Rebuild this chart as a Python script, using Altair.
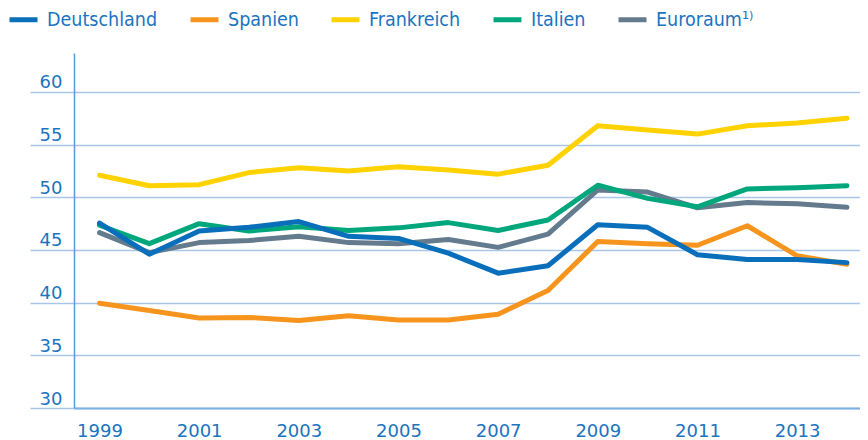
import altair as alt
import pandas as pd

years = list(range(1999, 2015))
series_names = ["Deutschland", "Spanien", "Frankreich", "Italien", "Euroraum¹⁾"]
series_colors = ["#0a6fbb", "#f7941d", "#ffd200", "#00a67c", "#647b8e"]
deutschland = [47.55, 44.6, 46.8, 47.15, 47.7, 46.3, 46.1, 44.7, 42.8, 43.5, 47.4, 47.15, 44.55, 44.1, 44.1, 43.8]
spanien = [39.95, 39.25, 38.55, 38.6, 38.3, 38.75, 38.35, 38.35, 38.9, 41.15, 45.8, 45.6, 45.45, 47.3, 44.45, 43.65]
frankreich = [52.1, 51.1, 51.2, 52.35, 52.8, 52.5, 52.9, 52.6, 52.2, 53.05, 56.8, 56.4, 56.0, 56.8, 57.05, 57.5]
italien = [47.35, 45.6, 47.5, 46.8, 47.2, 46.85, 47.1, 47.6, 46.85, 47.85, 51.15, 49.9, 49.1, 50.8, 50.9, 51.1]
euroraum = [46.65, 44.75, 45.7, 45.9, 46.3, 45.7, 45.6, 46.0, 45.25, 46.5, 50.7, 50.5, 49.0, 49.5, 49.4, 49.05]
y_ticks = [30, 35, 40, 45, 50, 55, 60]
x_ticks = [1999, 2001, 2003, 2005, 2007, 2009, 2011, 2013]

values = [deutschland, spanien, frankreich, italien, euroraum]
rows = []
for name, vals in zip(series_names, values):
    for yr, v in zip(years, vals):
        rows.append({"Jahr": yr, "Wert": v, "Reihe": name})
df = pd.DataFrame(rows)

BLUE = "#1a74bf"
LEGEND_FONT = "'DejaVu Sans Condensed', 'Open Sans', 'DejaVu Sans', sans-serif"
color_scale = alt.Scale(domain=series_names, range=series_colors)

base = alt.Chart(df).encode(
    x=alt.X("Jahr:Q",
            scale=alt.Scale(domain=[1998.488, 2014.262], nice=False, zero=False),
            axis=alt.Axis(values=x_ticks, format="d", title=None, ticks=False, grid=False,
                          domainColor="#7cb0e0", domainWidth=2,
                          labelColor=BLUE, labelFont="DejaVu Sans", labelFontSize=18,
                          labelPadding=14, labelFlush=False, labelOverlap=False)),
    y=alt.Y("Wert:Q",
            scale=alt.Scale(domain=[30, 63.7], nice=False, zero=False),
            axis=alt.Axis(values=y_ticks, title=None, grid=True, gridColor="#a9c6e9", gridWidth=1.5,
                          ticks=True, tickSize=44, tickColor="#a9c6e9", tickWidth=1.5,
                          domainColor="#5a9ad6", domainWidth=1.5,
                          labelColor=BLUE, labelFont="DejaVu Sans", labelFontSize=18,
                          labelPadding=-32, labelBaseline="bottom", labelFlush=False,
                          labelOverlap=False)),
    color=alt.Color("Reihe:N", scale=color_scale, sort=series_names,
                    legend=alt.Legend(title=None, orient="none", direction="horizontal",
                                      legendX=-67, legendY=-50,
                                      symbolType="stroke", symbolStrokeWidth=5,
                                      symbolSize=784, labelFontSize=19.5,
                                      labelFont=LEGEND_FONT,
                                      labelColor=BLUE, labelOffset=7,
                                      columnPadding=22, padding=0)),
)

draw_order = ["Euroraum¹⁾", "Spanien", "Frankreich", "Italien", "Deutschland"]
layers = [
    base.transform_filter(alt.datum.Reihe == name).mark_line(strokeWidth=5, strokeCap="round", strokeJoin="round")
    for name in draw_order
]

chart = alt.layer(*layers).properties(
    width=786, height=355,
    autosize=alt.AutoSizeParams(type="none"),
    padding={"left": 66, "top": 45, "right": 0, "bottom": 32},
).configure_view(stroke=None)

chart.save("out.html", embed_options={"renderer": "svg", "actions": False})
